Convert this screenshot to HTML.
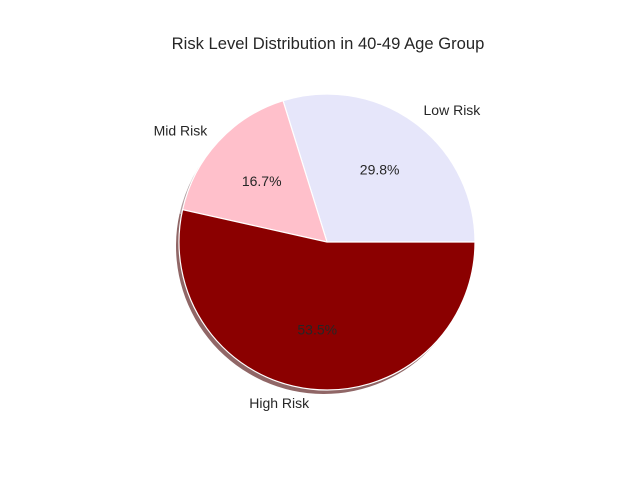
<!DOCTYPE html>
<html><head><meta charset="utf-8"><style>
body{margin:0;background:#fff;}
svg{display:block;font-family:"Liberation Sans","DejaVu Sans",sans-serif;}
</style></head><body>
<svg id="c" width="640" height="480">
<text x="328" y="49" text-anchor="middle" font-size="16.6" fill="#262626">Risk Level Distribution in 40-49 Age Group</text>
</svg>
<script>
const categories=["Low Risk","Mid Risk","High Risk"];
const values=[29.8,16.7,53.5];
const colors=["#e6e6fa","#ffc0cb","#8b0000"];
const shadowColors=["#736f7d","#806066","#460000"];
const svg=document.getElementById('c');
const NS="http://www.w3.org/2000/svg";
const cx=327,cy=242,r=148;
const total=values.reduce((a,b)=>a+b,0);
function pt(a,rr,ox,oy){return [cx+(ox||0)+rr*Math.cos(a),cy+(oy||0)-rr*Math.sin(a)];}
function mk(t,attrs){const e=document.createElementNS(NS,t);for(const k in attrs)e.setAttribute(k,attrs[k]);svg.appendChild(e);return e;}
let a0=0;
values.forEach((v,i)=>{
 const a1=a0+v/total*2*Math.PI;
 const p0=pt(a0,r,-3,4),p1=pt(a1,r,-3,4);
 const large=(a1-a0)>Math.PI?1:0;
 const s=mk('path',{d:`M${cx-3},${cy+4}L${p0[0]},${p0[1]}A${r},${r} 0 ${large} 0 ${p1[0]},${p1[1]}Z`,fill:shadowColors[i],opacity:'0.6'});
 
 
 a0=a1;
});
a0=0;
values.forEach((v,i)=>{
 const a1=a0+v/total*2*Math.PI;
 const p0=pt(a0,r),p1=pt(a1,r);
 const large=(a1-a0)>Math.PI?1:0;
 const s=mk('path',{d:`M${cx},${cy}L${p0[0]},${p0[1]}A${r},${r} 0 ${large} 0 ${p1[0]},${p1[1]}Z`,fill:colors[i],stroke:'#fff','stroke-width':'1.2'});
 
 
 const m=(a0+a1)/2;
 const lp=pt(m,r*1.1);
 const lab=mk('text',{x:lp[0],y:lp[1]+4,'font-size':'14',fill:'#262626','text-anchor':Math.cos(m)>=0?'start':'end'});
 lab.textContent=categories[i];
 
 
 const pp=pt(m,r*0.6);
 const pc=mk('text',{x:pp[0],y:pp[1]+4,'font-size':'14',fill:'#262626','text-anchor':'middle'});
 pc.textContent=v.toFixed(1)+'%';
 
 
 a0=a1;
});
</script>
</body></html>
